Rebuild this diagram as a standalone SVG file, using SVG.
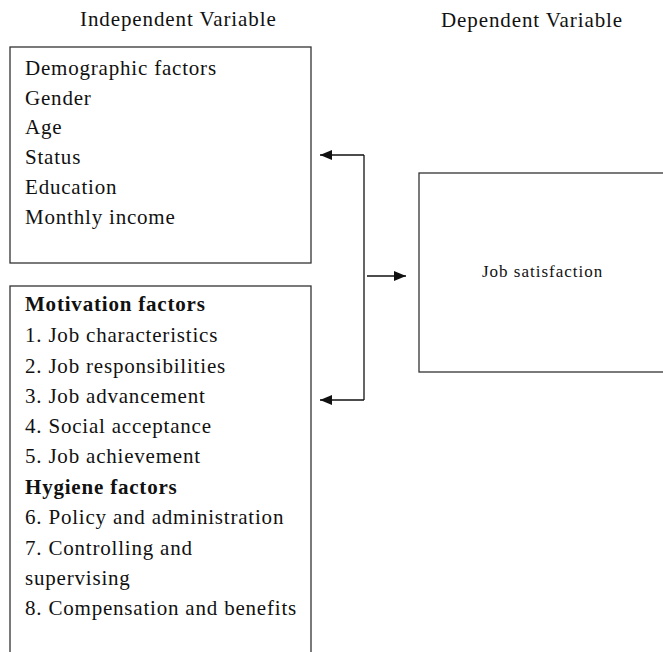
<svg xmlns="http://www.w3.org/2000/svg" width="663" height="652" viewBox="0 0 663 652">
<defs>
<style>
text{font-family:"Liberation Serif","Times New Roman",serif;fill:#111;}
.t{font-size:21px;letter-spacing:0.8px;}
.b{font-weight:bold;}
.h{font-size:21px;letter-spacing:0.9px;}
.box{fill:#fff;stroke:#333;stroke-width:1.3;}
.ln{fill:none;stroke:#111;stroke-width:1.3;}
</style>
<marker id="ah" viewBox="0 0 12 10" refX="12" refY="5" markerWidth="12" markerHeight="10" markerUnits="userSpaceOnUse" orient="auto">
<path d="M0,0 L12,5 L0,10 z" fill="#111"/>
</marker>
</defs>
<text class="h" x="80" y="26">Independent Variable</text>
<text class="h" x="441" y="27">Dependent Variable</text>
<g id="demographic">
<rect class="box" x="10" y="47" width="301" height="216"/>
<text class="t" x="25" y="75">Demographic factors</text>
<text class="t" x="25" y="105">Gender</text>
<text class="t" x="25" y="134">Age</text>
<text class="t" x="25" y="164">Status</text>
<text class="t" x="25" y="194">Education</text>
<text class="t" x="25" y="224">Monthly income</text>
</g>
<g id="factors">
<rect class="box" x="10" y="286" width="301" height="380"/>
<text class="t b" x="25" y="311">Motivation factors</text>
<text class="t" x="25" y="342">1. Job characteristics</text>
<text class="t" x="25" y="373">2. Job responsibilities</text>
<text class="t" x="25" y="403">3. Job advancement</text>
<text class="t" x="25" y="433">4. Social acceptance</text>
<text class="t" x="25" y="463">5. Job achievement</text>
<text class="t b" x="25" y="494">Hygiene factors</text>
<text class="t" x="25" y="524">6. Policy and administration</text>
<text class="t" x="25" y="555">7. Controlling and</text>
<text class="t" x="25" y="585">supervising</text>
<text class="t" x="25" y="615">8. Compensation and benefits</text>
</g>
<g id="job">
<rect class="box" x="419" y="173" width="260" height="199"/>
<text x="482" y="277" style="font-size:17px;letter-spacing:1px">Job satisfaction</text>
</g>
<g id="connectors">
<path class="ln" d="M364,155 V400"/>
<path class="ln" d="M364,155 H320" marker-end="url(#ah)"/>
<path class="ln" d="M364,400 H320" marker-end="url(#ah)"/>
<path class="ln" d="M367,276 H406" marker-end="url(#ah)"/>
</g>
</svg>
